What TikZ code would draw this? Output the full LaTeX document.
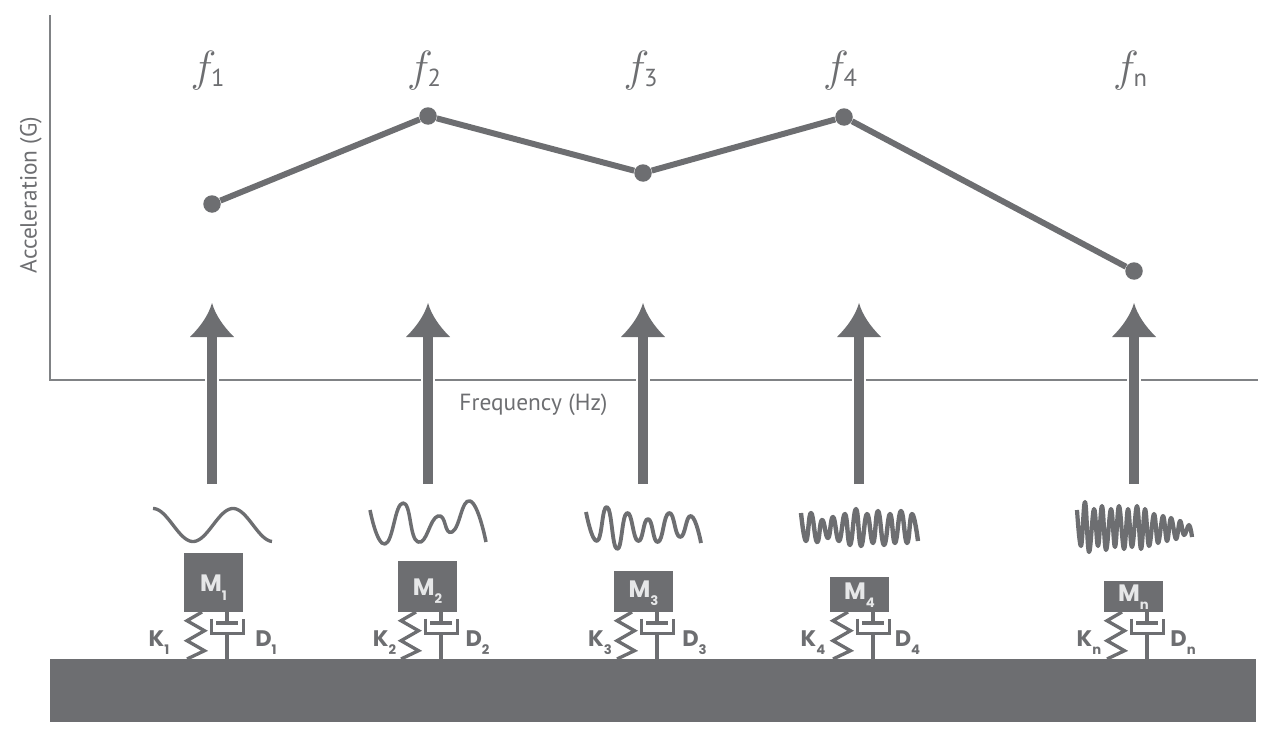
\documentclass[tikz,border=0pt]{standalone}
\usepackage{fontspec}
\usepackage{xcolor}
\usetikzlibrary{calc}
\setmainfont{PT Sans}
\newfontfamily\tagfont{Poppins}
\definecolor{plate}{HTML}{6D6E71}
\definecolor{axisgray}{HTML}{808285}
\definecolor{masstext}{HTML}{E6E7E8}
\newcommand{\tagtext}[2]{#1\raisebox{-4.6pt}{\fontsize{7.5}{8}\selectfont #2}}
\tikzset{
  axisline/.style={axisgray, line width=1.15pt},
  axislabel/.style={text=plate, inner sep=0pt, font=\fontsize{13.3}{15}\selectfont},
  freqlabel/.style={text=plate, inner sep=0pt, font=\fontsize{24}{25}\selectfont},
  datapoint/.style={circle, fill=plate, inner sep=0pt, minimum size=0.35cm},
  dataline/.style={plate, line width=3.4pt},
  shaft/.style={plate, line width=5.7pt},
  halo/.style={white, line width=8.2pt},
  wave/.style={plate, line width=2.2pt, line join=round},
  massbox/.style={fill=plate, anchor=south west, inner sep=0pt, minimum width=1.18cm},
  masslabel/.style={text=masstext, inner sep=0pt, font=\fontsize{13.5}{14}\tagfont\bfseries},
  partline/.style={plate, line width=1.9pt},
  partlabel/.style={text=plate, inner sep=0pt, font=\fontsize{12.8}{13}\tagfont\bfseries},
}
\begin{document}
\begin{tikzpicture}[x=0.02cm, y=-0.02cm]
  \useasboundingbox (0,0) rectangle (1280,730);
  % axes
  \coordinate (origin) at (50,380);
  \coordinate (ytop) at (50,15);
  \coordinate (xend) at (1258,380);
  \draw[axisline] (ytop) -- (origin) -- (xend);
  \node[axislabel, rotate=90] (ylabel) at (31,195) {Acceleration (G)};
  \node[axislabel] (xlabel) at (533.5,405) {Frequency (Hz)};
  % frequency response
  \foreach \i/\xp/\yp in {1/212/204,2/428/116,3/643/173,4/844/117,n/1134/271}{
    \node[datapoint] (pt\i) at (\xp,\yp) {};
  }
  \draw[dataline] (pt1) -- (pt2) -- (pt3) -- (pt4) -- (ptn);
  \foreach \i/\xf in {1/207.5,2/424,3/640.5,4/840,n/1130}{
    \node[freqlabel] (freq\i) at (\xf,71) {$f$\kern-3pt\raisebox{-0.2ex}{\fontsize{14}{15}\selectfont\i}};
  }
  % arrows
  \foreach \i/\xa in {1/212,2/428,3/643,4/859,n/1134}{
    \coordinate (base\i) at (\xa,484);
    \coordinate (tip\i) at (\xa,303);
    \draw[halo] (base\i) -- (\xa,337);
    \draw[shaft] (base\i) -- (\xa,335);
    \fill[plate] (tip\i) .. controls ($(tip\i)+(3.5,12)$) and ($(tip\i)+(11,23)$) .. ($(tip\i)+(22,34)$)
      -- ($(tip\i)+(-22,34)$) .. controls ($(tip\i)+(-11,23)$) and ($(tip\i)+(-3.5,12)$) .. (tip\i) -- cycle;
  }
  % excitation signals
  \draw[wave, line width=1.9pt] plot[domain=153:272, samples=80] (\x,{525-16.5*cos((\x-153)*4.5)});
  \draw[wave, line width=2pt] plot[smooth, tension=0.9] coordinates {(370,510) (385,544) (403,503) (418,542) (438,516) (452,532) (470,501) (486,542)};
  \draw[wave] plot[smooth, tension=0.9] coordinates {(586,512) (597,541) (607,507) (617,549) (627,513) (638,541) (648,519) (658,542) (669,513) (680,537) (691,516) (701,543)};
  \draw[wave, line width=2.5pt] plot[smooth, tension=0.8] coordinates {(801,513) (806,541) (811,513) (817,542) (822,520) (828,538) (833,517) (839,541) (845,514) (850,545) (856,509) (861,546) (867,514) (873,543) (878,511) (884,545) (890,514) (895,543) (901,511) (907,543) (912,514) (918,541)};
  \draw[wave, line width=2.4pt] plot[smooth, tension=0.7] coordinates {(1077,510) (1081,546) (1085,502) (1089,552) (1094,509) (1098,546) (1102,506) (1106,550) (1111,509) (1115,547) (1119,506) (1124,549) (1128,509) (1132,547) (1137,506) (1141,549) (1145,509) (1149,546) (1154,514) (1158,543) (1163,516) (1167,541) (1171,518) (1176,539) (1180,521) (1184,535) (1189,525) (1192,537)};
  % ground
  \node[fill=plate, inner sep=0pt, anchor=north west, minimum width=24.12cm, minimum height=1.26cm] (ground) at (50,659) {};
  % mass, spring and damper
  \foreach \i/\xm/\hm/\ym/\xk/\xd in {1/184/59/587.7/159/266,2/398/51/591/384.5/477.5,3/614/41/593.5/600/694.5,4/830/35/595/813/907.5,n/1104/31/597/1089/1183}{
    \node[massbox, minimum height={\hm*0.02cm}] (mass\i) at (\xm,612) {};
    \node[masslabel] (lab\i) at (\xm+29.5,\ym) {\tagtext{M}{\i}};
    \coordinate (msw) at (mass\i.south west);
    \coordinate (sprfoot) at ($(msw)+(3,0)$);
    \coordinate (rodfoot) at ($(msw)+(43,0)$);
    \draw[partline] ($(msw)+(18,0)$) -- ++(-15,8.7) -- ++(17.5,10) -- ++(-17.5,10) -- ++(17.5,10) -- (sprfoot |- ground.north);
    \draw[partline] (rodfoot) -- ++(0,11);
    \draw[partline] ($(msw)+(32,11)$) -- ++(22,0);
    \draw[partline] ($(msw)+(27.5,6.5)$) -- ++(0,15) -- ++(32,0) -- ++(0,-15);
    \draw[partline] ($(msw)+(43,21.5)$) -- (rodfoot |- ground.north);
    \node[partlabel] (spring\i) at (\xk,642.5) {\tagtext{K}{\i}};
    \node[partlabel] (damper\i) at (\xd,642.5) {\tagtext{D}{\i}};
  }
\end{tikzpicture}
\end{document}
